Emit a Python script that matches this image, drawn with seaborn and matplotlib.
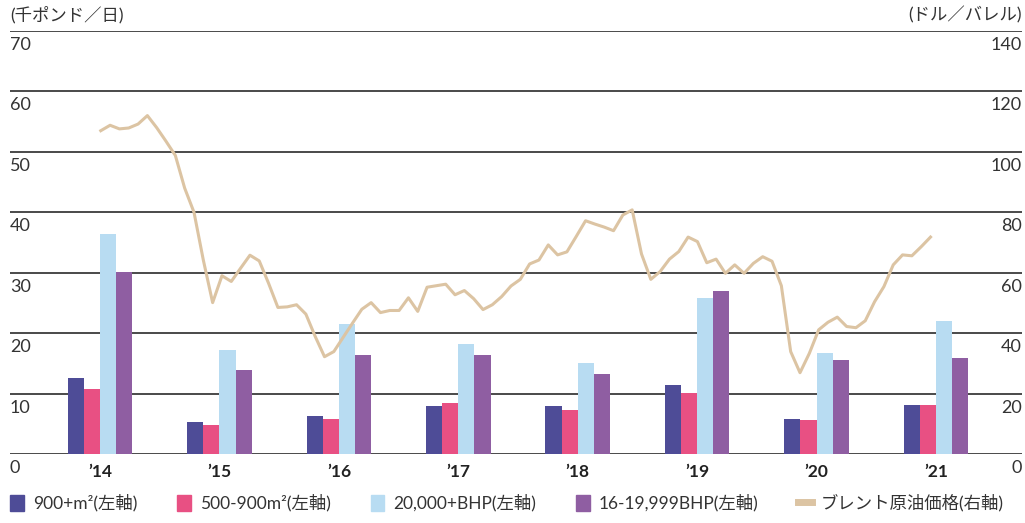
import numpy as np
import pandas as pd
import matplotlib
matplotlib.use('Agg')
import matplotlib.pyplot as plt
import matplotlib.transforms as mtransforms
from matplotlib.patches import Patch
from matplotlib.lines import Line2D
import seaborn as sns

# data
years = ['’14', '’15', '’16', '’17', '’18', '’19', '’20', '’21']
series = ['900+m²(左軸)', '500-900m²(左軸)', '20,000+BHP(左軸)', '16-19,999BHP(左軸)']
s900 = [12.6, 5.3, 6.3, 7.9, 7.9, 11.4, 5.8, 8.1]
s500 = [10.8, 4.8, 5.8, 8.4, 7.3, 10.1, 5.6, 8.1]
bhp20k = [36.4, 17.2, 21.5, 18.2, 15.1, 25.8, 16.7, 22.0]
bhp16 = [30.1, 13.9, 16.4, 16.4, 13.2, 27.0, 15.6, 15.9]

brent_label = 'ブレント原油価格(右軸)'
brent = [107.0, 108.8, 107.6, 107.9, 109.2, 112.0, 108.0, 103.5, 98.8, 88.0,
         80.0, 64.2, 50.1, 59.0, 57.1, 61.5, 65.8, 63.9, 56.5, 48.5,
         48.7, 49.4, 46.3, 38.9, 32.2, 33.9, 38.6, 43.3, 47.9, 50.1,
         46.8, 47.5, 47.5, 51.7, 47.2, 55.2, 55.7, 56.2, 52.7, 54.1,
         51.4, 47.8, 49.4, 52.1, 55.6, 57.8, 62.9, 64.2, 69.2, 65.9,
         66.9, 72.0, 77.2, 76.1, 75.1, 73.9, 79.1, 80.8, 66.2, 57.8,
         60.4, 64.5, 67.0, 71.8, 70.3, 63.3, 64.5, 59.8, 62.6, 59.8,
         63.1, 65.3, 63.8, 55.7, 33.9, 26.9, 33.3, 41.1, 43.6, 45.3,
         42.2, 41.8, 44.1, 50.4, 55.4, 62.6, 65.9, 65.6, 68.6, 71.8]

left_ticks = [0, 10, 20, 30, 40, 50, 60, 70]
right_ticks = [0, 20, 40, 60, 80, 100, 120, 140]
left_unit = '(千ポンド／日)'
right_unit = '(ドル／バレル)'

colors = ['#4e4c97', '#e85083', '#b8dcf2', '#8f5ea2']
line_color = '#dcc4a3'
grid_color = '#3c3c3c'
text_color = '#333333'

df = pd.DataFrame({'year': years * 4,
                   'series': np.repeat(series, len(years)),
                   'value': s900 + s500 + bhp20k + bhp16})

plt.rcParams['font.family'] = ['Lato', 'Noto Sans CJK JP', 'DejaVu Sans']

fig = plt.figure(figsize=(10.25, 5.23), dpi=100)
ax = fig.add_axes([10 / 1025, 69 / 523, 1012 / 1025, 423 / 523])

for t in left_ticks:
    ax.axhline(t, color=grid_color, lw=1.3, zorder=0)

sns.barplot(data=df, x='year', y='value', hue='series', order=years,
            hue_order=series, palette=colors, width=0.54, gap=0,
            saturation=1, legend=False, ax=ax, zorder=2)

ax.set_ylim(0, 70)
ax.set_xlim(-0.754, 7.72)
ax.set_xlabel('')
ax.set_ylabel('')
ax.set_yticks([])
ax.tick_params(axis='x', length=0, pad=7, labelsize=12.5, colors='#222222')
for lab in ax.get_xticklabels():
    lab.set_fontweight('bold')
for sp in ax.spines.values():
    sp.set_visible(False)

ax2 = ax.twinx()
line_x = np.linspace(0.006, 6.954, len(brent))
ax2.plot(line_x, brent, color=line_color, lw=2.2, zorder=3)
ax2.set_ylim(0, 140)
ax2.set_yticks([])
for sp in ax2.spines.values():
    sp.set_visible(False)

# tick labels sit just below each grid line
tl = mtransforms.blended_transform_factory(ax.transAxes, ax.transData)
for t in left_ticks:
    ax.text(0.0, t - 1.0, str(t), transform=tl, ha='left', va='top',
            fontsize=13, color=text_color)
tr = mtransforms.blended_transform_factory(ax2.transAxes, ax2.transData)
for t in right_ticks:
    ax2.text(1.0, t - 2.0, str(t), transform=tr, ha='right', va='top',
             fontsize=13, color=text_color)

fig.text(10 / 1025, 1 - 15 / 523, left_unit, ha='left', va='center',
         fontsize=12.5, color=text_color)
fig.text(1022 / 1025, 1 - 15 / 523, right_unit, ha='right', va='center',
         fontsize=12.5, color=text_color)

handles = [Patch(color=c, label=s) for c, s in zip(colors, series)]
handles.append(Line2D([0], [0], color=line_color, lw=5, label=brent_label))
fig.legend(handles=handles, loc='center left', bbox_to_anchor=(0.005, 20 / 523),
           ncol=5, frameon=False, fontsize=12.5, handlelength=0.8,
           handleheight=1.1, handletextpad=0.5, columnspacing=2.3,
           borderaxespad=0, borderpad=0.3, labelcolor=text_color)

fig.savefig('out.png', dpi=100)
